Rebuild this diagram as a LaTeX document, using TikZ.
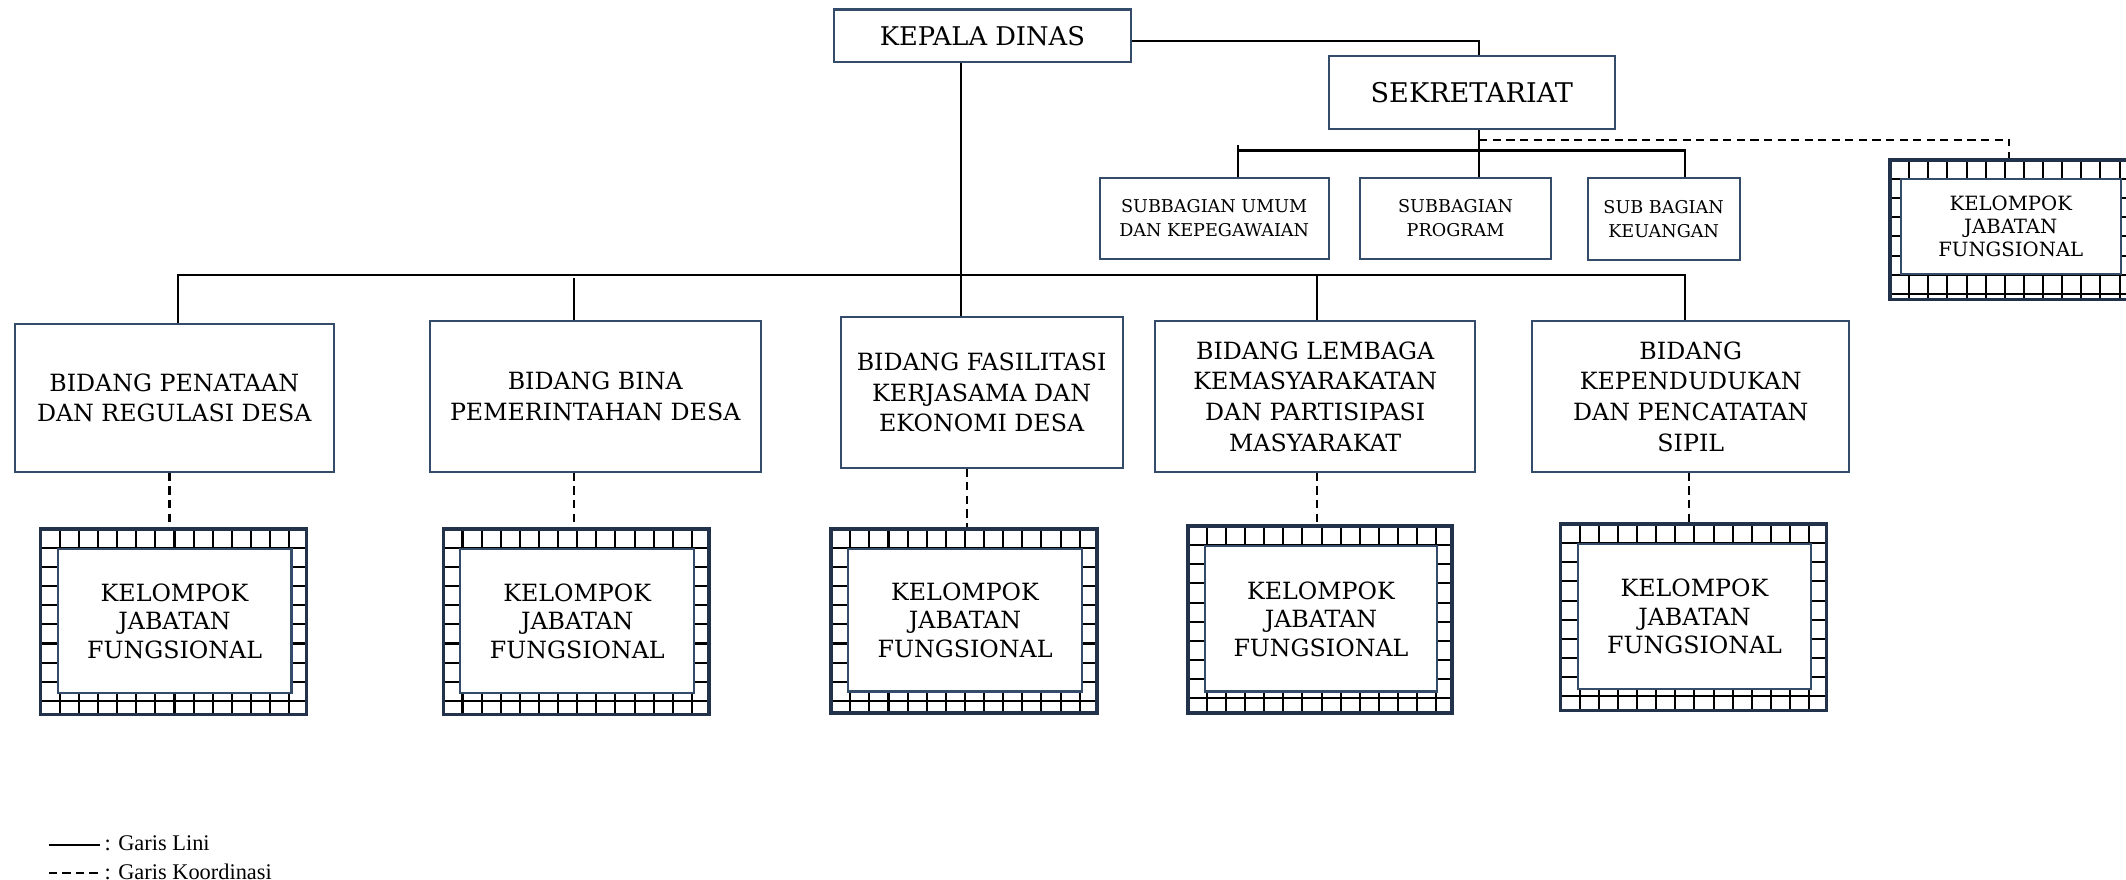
\documentclass[tikz,border=0pt]{standalone}
\usepackage{fontspec}
\setmainfont{DejaVu Serif}
\newfontfamily\legfont{Liberation Serif}
\usetikzlibrary{calc}
\definecolor{boxcol}{RGB}{52,76,106}
\definecolor{kjfcol}{RGB}{34,50,75}
\newcommand{\orgbox}[7]{%
  \pgfmathsetmacro{\obW}{#5-#3}\pgfmathsetmacro{\obH}{#6-#4}%
  \node[#1, minimum width=\obW pt, minimum height=\obH pt] (#2) at ({(#3+#5)/2},{(#4+#6)/2}) {#7};%
}
\newcommand{\kjfgrid}[4]{%
  \begin{scope}
    \clip (#1,#2) rectangle (#3,#4);
    \foreach \gi in {1,...,15} \draw[gridline] ({#1+\gi*14.1},#2) -- ({#1+\gi*14.1},#4);
    \foreach \gi in {1,...,11} \draw[gridline] (#1,{#2+\gi*14.1}) -- (#3,{#2+\gi*14.1});
  \end{scope}%
}
\begin{document}
\begin{tikzpicture}[x=1pt,y=-1pt,
  conn/.style={line width=1.5pt, black},
  coordln/.style={line width=1.5pt, black, dash pattern=on 6pt off 4pt},
  unit/.style={draw=boxcol, line width=1.5pt, rectangle, inner sep=0pt, align=center, fill=white},
  top/.style={unit, font=\fontsize{19}{23}\selectfont},
  sekr/.style={unit, font=\fontsize{20}{24}\selectfont},
  bid/.style={unit, font=\fontsize{17.5}{22.5}\selectfont},
  sub/.style={unit, font=\fontsize{13}{17.5}\selectfont},
  kjfo/.style={draw=kjfcol, line width=2.6pt, rectangle, inner sep=0pt},
  kjfi/.style={unit, font=\fontsize{17.5}{21}\selectfont},
  kjfis/.style={unit, font=\fontsize{14.5}{17}\selectfont},
  gridline/.style={black, line width=1.5pt},
  legtext/.style={anchor=west, inner sep=0pt, font=\legfont\fontsize{16.5}{19}\selectfont},
]
\useasboundingbox (0,0) rectangle (1568,649);

% top level
\orgbox{top}{kd}{615}{7}{834}{46}{KEPALA DINAS}
\orgbox{sekr}{sek}{980}{41}{1191}{95}{SEKRETARIAT}
\orgbox{sub}{su}{811}{131}{980}{191}{SUBBAGIAN UMUM\\DAN KEPEGAWAIAN}
\orgbox{sub}{sp}{1003}{131}{1144}{191}{SUBBAGIAN\\PROGRAM}
\orgbox{sub}{sk}{1171}{131}{1283}{192}{SUB BAGIAN\\KEUANGAN}

% bidang
\orgbox{bid}{b1}{11}{239}{246}{348}{BIDANG PENATAAN\\DAN REGULASI DESA}
\orgbox{bid}{b2}{317}{237}{561}{348}{BIDANG BINA\\PEMERINTAHAN DESA}
\orgbox{bid}{b3}{620}{234}{828}{345}{BIDANG FASILITASI\\KERJASAMA DAN\\EKONOMI DESA}
\orgbox{bid}{b4}{852}{237}{1088}{348}{BIDANG LEMBAGA\\KEMASYARAKATAN\\DAN PARTISIPASI\\MASYARAKAT}
\orgbox{bid}{b5}{1130}{237}{1364}{348}{BIDANG\\KEPENDUDUKAN\\DAN PENCATATAN\\SIPIL}

% kelompok jabatan fungsional
\kjfgrid{1394}{118}{1569}{221}
\orgbox{kjfo}{kr}{1394}{118}{1569}{221}{}
\orgbox{kjfis}{kri}{1402}{132}{1564}{202}{KELOMPOK\\JABATAN\\FUNGSIONAL}

\kjfgrid{30}{390}{226}{527}
\orgbox{kjfo}{k1}{30}{390}{226}{527}{}
\orgbox{kjfi}{k1i}{42.5}{405}{215}{511}{KELOMPOK\\JABATAN\\FUNGSIONAL}

\kjfgrid{327}{390}{523}{527}
\orgbox{kjfo}{k2}{327}{390}{523}{527}{}
\orgbox{kjfi}{k2i}{339.5}{405}{512}{511}{KELOMPOK\\JABATAN\\FUNGSIONAL}

\kjfgrid{613}{390}{809}{526}
\orgbox{kjfo}{k3}{613}{390}{809}{526}{}
\orgbox{kjfi}{k3i}{625.5}{405}{798}{510}{KELOMPOK\\JABATAN\\FUNGSIONAL}

\kjfgrid{876}{388}{1071}{526}
\orgbox{kjfo}{k4}{876}{388}{1071}{526}{}
\orgbox{kjfi}{k4i}{888.5}{403}{1060}{510}{KELOMPOK\\JABATAN\\FUNGSIONAL}

\kjfgrid{1151}{386.5}{1347}{524}
\orgbox{kjfo}{k5}{1151}{386.5}{1347}{524}{}
\orgbox{kjfi}{k5i}{1163.5}{401.5}{1336}{508}{KELOMPOK\\JABATAN\\FUNGSIONAL}

% connectors: top
\draw[conn] (kd.east |- 0,30) -| (1091,0 |- sek.north);
\draw[conn] (709,0 |- kd.south) -- (709,0 |- b3.north);
\coordinate (sbar) at (1091,111);
\draw[conn] (1091,0 |- sek.south) -- (1091,0 |- sp.north);
\draw[conn] (913,107) -- (913,0 |- su.north);
\draw[conn] (913,111) -- (sbar) -| (1243,0 |- sk.north);
\coordinate (dstart) at (1091,103);
\draw[coordln] (dstart) -| (1482,0 |- kr.north);

% connectors: bidang
\coordinate (mR) at (1243,203);
\draw[conn] (131,0 |- b1.north) |- (mR) -- (1243,0 |- b5.north);
\draw[conn] (423,205) -- (423,0 |- b2.north);
\draw[conn] (971,203) -- (971,0 |- b4.north);

% coordination lines
\draw[coordln] (125,0 |- b1.south) -- (125,0 |- k1.north);
\draw[coordln] (423,0 |- b2.south) -- (423,0 |- k2.north);
\draw[coordln] (713,0 |- b3.south) -- (713,0 |- k3.north);
\draw[coordln] (971,0 |- b4.south) -- (971,0 |- k4.north);
\draw[coordln] (1246,0 |- b5.south) -- (1246,0 |- k5.north);

% legend
\coordinate (la1) at (36,623);
\coordinate (la2) at (74,623);
\coordinate (lb1) at (36,644);
\coordinate (lb2) at (74,644);
\draw[conn] (la1) -- (la2);
\draw[coordln] (lb1) -- (lb2);
\node[legtext] (lt1) at (77,622) {: Garis Lini};
\node[legtext] (lt2) at (77,643) {: Garis Koordinasi};
\end{tikzpicture}
\end{document}
